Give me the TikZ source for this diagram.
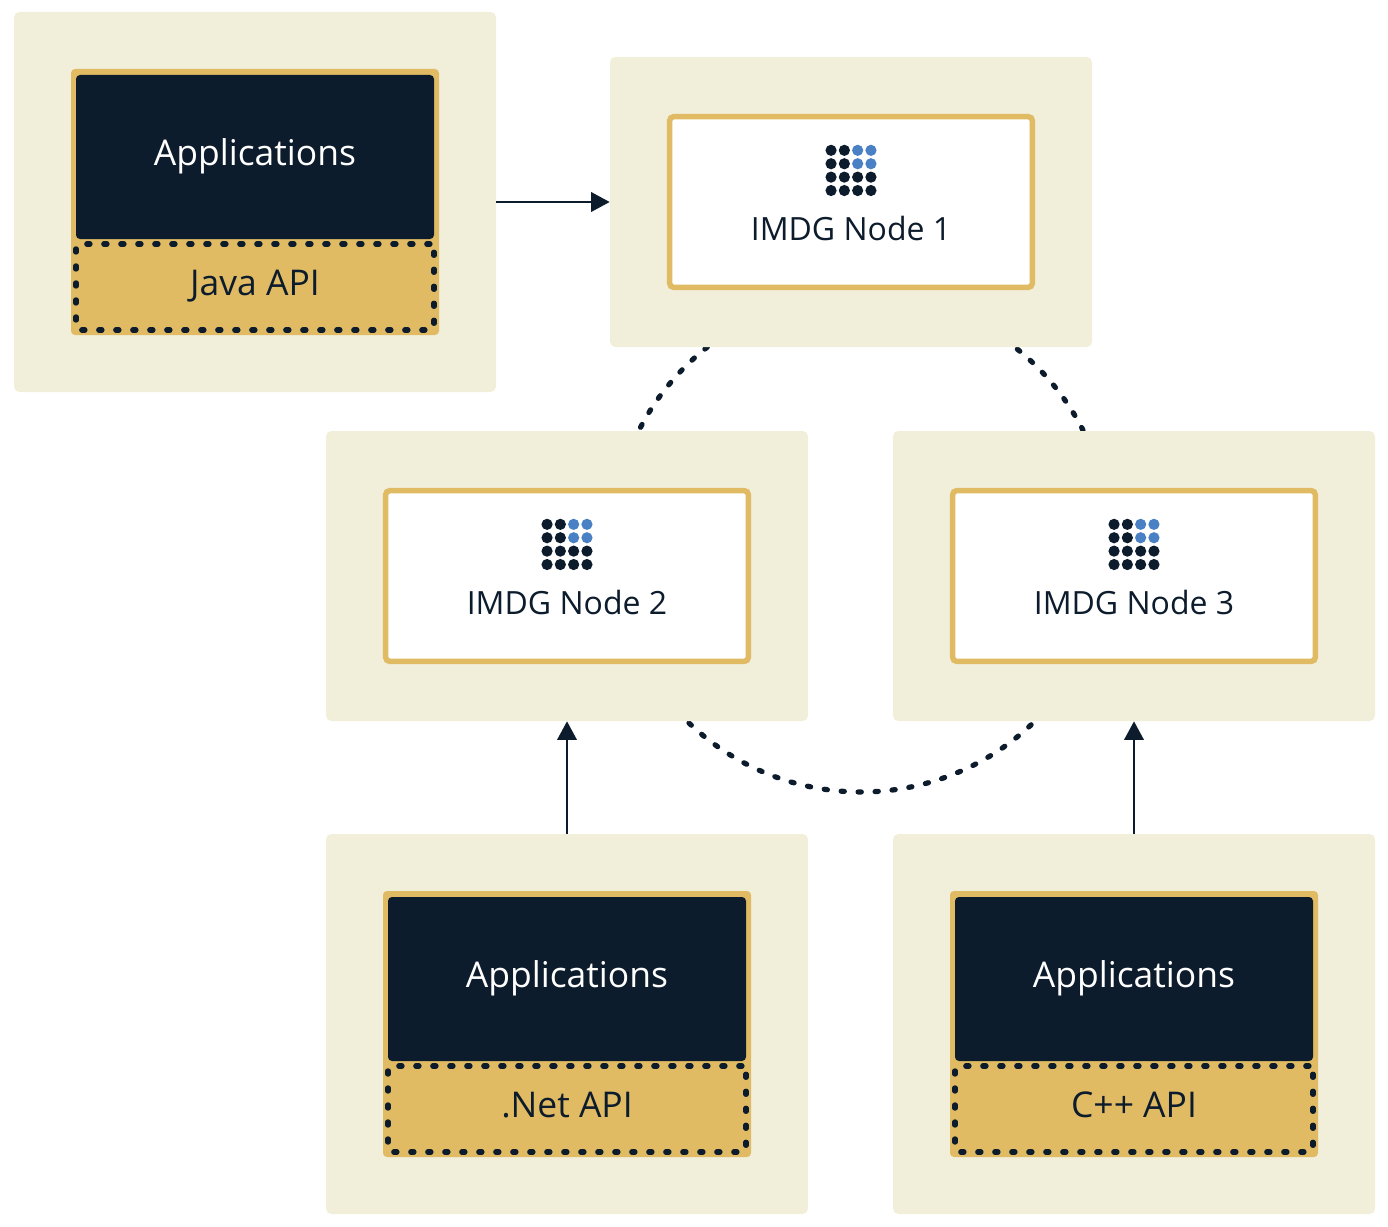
\documentclass[tikz,border=0pt]{standalone}
\usepackage{fontspec}
\setmainfont{Open Sans}
\usetikzlibrary{arrows.meta}
\definecolor{cream}{HTML}{F1EEDA}
\definecolor{gold}{HTML}{E0BB63}
\definecolor{ink}{HTML}{0D1C2C}
\definecolor{sky}{HTML}{4A80C4}
\tikzset{
  x=0.75pt,y=0.75pt,
  lbl/.style={font=\fontsize{26.6pt}{30pt}\selectfont,inner sep=0pt},
  nlbl/.style={font=\fontsize{24pt}{28pt}\selectfont,inner sep=0pt},
  outerbox/.style={fill=cream,rounded corners=4pt,minimum width=361.5pt,inner sep=0pt},
  tallbox/.style={outerbox,minimum height=285pt},
  widebox/.style={outerbox,minimum height=217.5pt},
  goldbox/.style={fill=gold,rounded corners=3pt,minimum width=276pt,minimum height=199.5pt,inner sep=0pt},
  darkbox/.style={fill=ink,rounded corners=3pt,minimum width=268.5pt,minimum height=123pt,inner sep=0pt},
  apibox/.style={draw=ink,line width=3.9pt,dash pattern=on 2.4pt off 10.35pt,line cap=round,rounded corners=3pt,minimum width=268.5pt,minimum height=64.5pt,inner sep=0pt},
  nodebox/.style={fill=white,draw=gold,line width=4.1pt,rounded corners=3pt,minimum width=272pt,minimum height=128pt,inner sep=0pt},
  flow/.style={draw=ink,line width=2.1pt,-{Triangle[length=14pt,width=14.5pt]}},
  ring/.style={draw=ink,line width=3.9pt,line cap=round,dash pattern=on 2.4pt off 10.35pt},
  grid/.pic={
    \foreach \i in {0,1,2,3}\foreach \j in {0,1,2,3}{
      \pgfmathsetmacro{\hue}{(\i>1 && \j<2)?1:0}
      \ifdim\hue pt>0.5pt\def\dotcol{sky}\else\def\dotcol{ink}\fi
      \fill[\dotcol] ({(\i-1.5)*13.3},{-\j*13.4}) circle[radius=4.2pt];
    }
  }
}
\newcommand{\appblock}[2]{% name, api label
  \node[goldbox] (#1g) at (#1.center) {};
  \node[darkbox] (#1d) at ([yshift=33.75pt]#1.center) {};
  \node[lbl,text=white] (#1t) at ([yshift=34.5pt]#1.center) {Applications};
  \node[apibox] (#1api) at ([yshift=-63.75pt]#1.center) {};
  \node[lbl,text=ink,anchor=base] (#1l) at ([yshift=-69.75pt]#1.center) {#2};
}
\newcommand{\imdg}[2]{% name, label
  \node[nodebox] (#1b) at (#1.center) {};
  \pic at ([yshift=38.75pt]#1.center) {grid};
  \node[nlbl,text=ink] (#1l) at ([yshift=-19.5pt]#1.center) {#2};
}
\begin{document}
\begin{tikzpicture}
\useasboundingbox (0,0) rectangle (1388,-1227);
\coordinate (ringc) at (861,-543);
\coordinate (r1) at ([shift={(128.1:186.75pt)}]ringc);
\coordinate (r2) at ([shift={(26.9:186.75pt)}]ringc);
\coordinate (r3) at ([shift={(226.3:186.75pt)}]ringc);
\draw[ring] (r1) arc[start angle=128.1,end angle=152.9,radius=186.75pt];
\draw[ring] (r2) arc[start angle=26.9,end angle=51.2,radius=186.75pt];
\draw[ring] (r3) arc[start angle=226.3,end angle=313.4,radius=186.75pt];

\node[tallbox] (a1) at (255,-202) {};
\node[widebox] (n1) at (851,-202) {};
\node[widebox] (n2) at (567,-576) {};
\node[widebox] (n3) at (1134,-576) {};
\node[tallbox] (a2) at (567,-1024) {};
\node[tallbox] (a3) at (1134,-1024) {};

\appblock{a1}{Java API}
\appblock{a2}{.Net API}
\appblock{a3}{C++ API}
\imdg{n1}{IMDG Node 1}
\imdg{n2}{IMDG Node 2}
\imdg{n3}{IMDG Node 3}

\draw[flow] (a1.east) -- (n1.west);
\draw[flow] (a2.north) -- (n2.south);
\draw[flow] (a3.north) -- (n3.south);
\end{tikzpicture}
\end{document}
